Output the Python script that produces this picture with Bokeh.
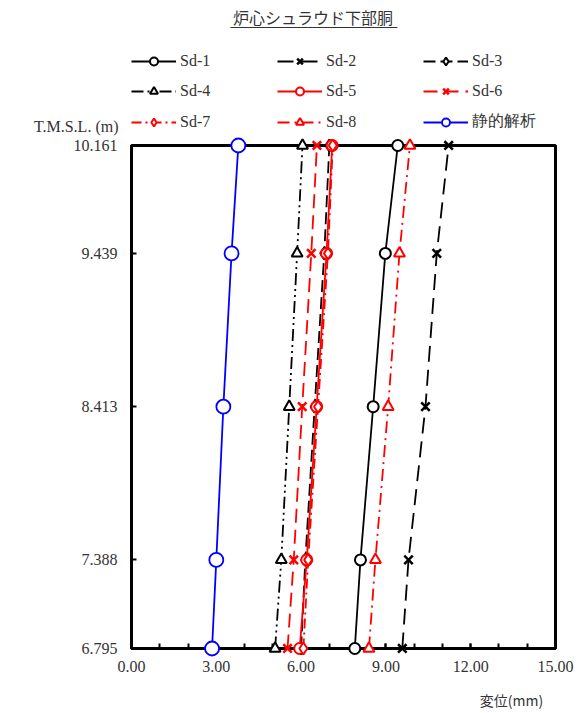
from bokeh.plotting import figure
from bokeh.models import Label, Legend, LegendItem, FixedTicker, Arrow, PrintfTickFormatter, BoxAnnotation
from bokeh.embed import file_html
from bokeh.resources import INLINE

# T.M.S.L. levels (m)
tmsl = [6.795, 7.388, 8.413, 9.439, 10.161]
y_ticks = [6.795, 7.388, 8.413, 9.439, 10.161]
x_ticks = [0, 3, 6, 9, 12, 15]
x_minor = list(range(16))

# displacement (mm), bottom to top
sd1 = [7.90, 8.10, 8.55, 8.98, 9.42]
sd2 = [9.58, 9.80, 10.40, 10.80, 11.22]
sd3 = [6.00, 6.15, 6.48, 6.82, 7.00]
sd4 = [5.08, 5.30, 5.58, 5.86, 6.05]
sd5 = [5.95, 6.20, 6.55, 6.90, 7.10]
sd6 = [5.52, 5.74, 6.04, 6.36, 6.56]
sd7 = [6.08, 6.25, 6.60, 6.95, 7.12]
sd8 = [8.40, 8.63, 9.08, 9.48, 9.85]
static = [2.85, 3.00, 3.25, 3.54, 3.78]

title_text = "炉心シュラウド下部胴"
y_title = "T.M.S.L. (m)"
x_title = "変位(mm)"

SERIF = "Liberation Serif"
JP = "Noto Sans CJK JP"

X0, X1 = 0, 15
Y0, Y1 = 6.795, 10.161

# frame covers whole canvas; the plotting box is placed inside it
p = figure(width=578, height=713, x_range=(-4.6344, 15.8137), y_range=(6.3600, 11.1313),
           output_backend="svg", toolbar_location=None, min_border=0, title=None)
p.grid.visible = False
p.outline_line_alpha = 0

xa = p.xaxis[0]
xa.ticker = FixedTicker(ticks=x_ticks, minor_ticks=x_minor)
xa.formatter = PrintfTickFormatter(format="%.2f")
xa.fixed_location = Y0
xa.bounds = (X0, X1)
ya = p.yaxis[0]
ya.ticker = FixedTicker(ticks=y_ticks)
ya.formatter = PrintfTickFormatter(format="%.3f")
ya.fixed_location = X0
ya.bounds = (Y0, Y1)
for ax in (xa, ya):
    ax.level = "underlay"
    ax.axis_line_width = 3
    ax.axis_line_color = "black"
    ax.major_tick_in = 5
    ax.major_tick_out = 0
    ax.minor_tick_in = 5
    ax.minor_tick_out = 0
    ax.major_tick_line_width = 2
    ax.minor_tick_line_width = 2
    ax.major_label_text_font = SERIF
    ax.major_label_text_font_size = "16px"
    ax.major_label_text_color = "#333333"
xa.major_label_standoff = 13
ya.major_label_standoff = 14

p.add_layout(BoxAnnotation(left=X0, right=X1, bottom=Y0, top=Y1, fill_alpha=0,
                           line_color="black", line_alpha=1.0, line_width=3,
                           level="underlay"))

series = [
    ("Sd-1", sd1, "black", "solid", "circle", 11, 2),
    ("Sd-2", sd2, "black", "16 8", "x", 12, 2.5),
    ("Sd-3", sd3, "black", "12 5", "diamond", 12, 2),
    ("Sd-4", sd4, "black", "12 4 2 4 2 4", "triangle", 11, 2),
    ("Sd-5", sd5, "red", "solid", "circle", 11, 2),
    ("Sd-6", sd6, "red", "14 7", "x", 12, 2.5),
    ("Sd-7", sd7, "red", "10 4 2 4", "diamond", 12, 2),
    ("Sd-8", sd8, "red", "12 5 2 5", "triangle", 11, 2),
    ("静的解析", static, "blue", "solid", "circle", 14, 1.8),
]

items = []
for name, xs, col, dash, mk, sz, mlw in series:
    r1 = p.line(xs, tmsl, line_color=col, line_width=1.8, line_dash=dash)
    r2 = p.scatter(xs, tmsl, marker=mk, size=sz, line_color=col, line_width=mlw,
                   fill_color="white")
    items.append(LegendItem(label=name, renderers=[r1, r2]))

legend = Legend(items=items, orientation="horizontal", ncols=3,
                location=(131, 581), padding=0, margin=0, spacing=10,
                glyph_width=45, glyph_height=20, label_standoff=4,
                label_width=87, label_height=20,
                label_text_font=SERIF, label_text_font_size="16px",
                label_text_color="#333333",
                border_line_alpha=0, background_fill_alpha=0)
p.add_layout(legend, "center")

p.add_layout(Label(x=6.42, y=11.0176, text=title_text, text_align="center",
                   text_baseline="middle", text_font=JP, text_font_size="16px",
                   text_color="#333333"))
p.add_layout(Arrow(x_start=3.50, y_start=10.9506, x_end=9.41, y_end=10.9506,
                   start=None, end=None, line_color="#333333", line_width=1))
p.add_layout(Label(x=-0.46, y=10.2881, text=y_title, text_align="right",
                   text_baseline="middle", text_font=SERIF, text_font_size="16px",
                   text_color="#333333"))
p.add_layout(Label(x=13.443, y=6.447, text=x_title, text_align="center",
                   text_baseline="middle", text_font=JP, text_font_size="14px",
                   text_color="#333333"))

open("out.html", "w").write(file_html(p, INLINE))
